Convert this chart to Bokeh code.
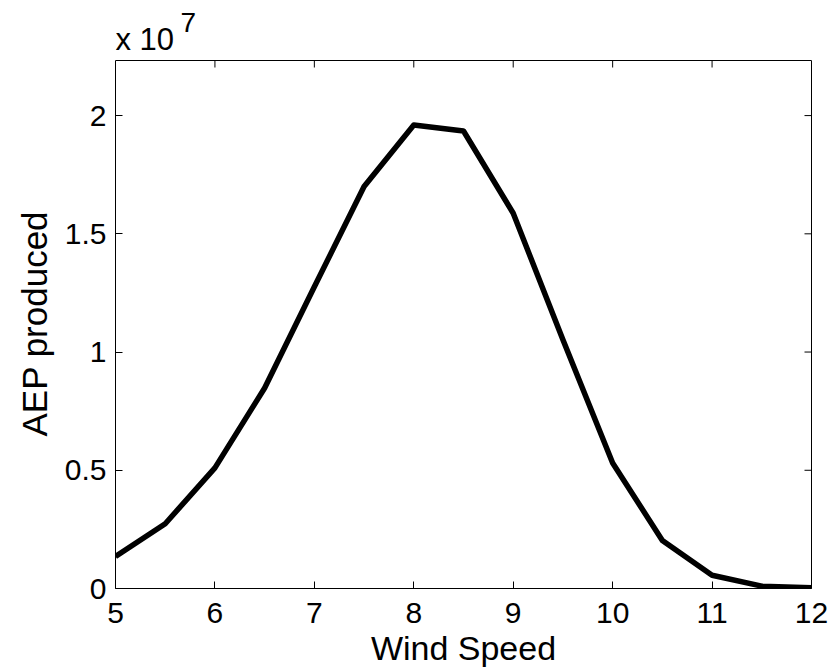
import math
from bokeh.plotting import figure
from bokeh.models import FixedTicker, Range1d, LinearAxis, Title
from bokeh.core.properties import value
from bokeh.embed import file_html
from bokeh.resources import INLINE

# Data (AEP in units of 1e7)
wind_speed = [5, 5.5, 6, 6.5, 7, 7.5, 8, 8.5, 9, 9.5, 10, 10.5, 11, 11.5, 12]
aep_e7 = [0.135, 0.274, 0.510, 0.848, 1.276, 1.700, 1.960, 1.935, 1.587, 1.052, 0.531, 0.203, 0.056, 0.010, 0.003]

x_ticks = [5, 6, 7, 8, 9, 10, 11, 12]
y_ticks = [0, 0.5, 1, 1.5, 2]
y_tick_labels = ["0", "0.5", "1", "1.5", "2"]
x_label = "Wind Speed"
y_label = "AEP produced"
exp_base = "x 10"
exp_power = "7"

X_MIN, X_MAX = 5, 12
Y_MIN, Y_MAX = 0, 2.233

FONT = "Liberation Sans"

# layout: axes box from y=60 to y=588 px; the frame is extended to the top edge
# so that the exponent marker above the box can be drawn as text.
W, H = 833, 670
BOX_TOP_PX, BORDER_BOTTOM = 60, 82
frame_h = H - BORDER_BOTTOM
Y_TOP = Y_MIN + (Y_MAX - Y_MIN) * frame_h / (frame_h - BOX_TOP_PX)

p = figure(width=W, height=H, output_backend="svg", toolbar_location=None,
           x_range=Range1d(X_MIN, X_MAX), y_range=Range1d(Y_MIN, Y_TOP),
           min_border_left=115, min_border_right=22, min_border_top=0,
           min_border_bottom=BORDER_BOTTOM)
p.xgrid.visible = False
p.ygrid.visible = False
p.outline_line_color = None
p.background_fill_color = "white"
p.border_fill_color = "white"

p.line(wind_speed, aep_e7, line_color="black", line_width=5.5, line_join="round")

# top edge of the box and inward ticks on top and right edges
p.line(x=[X_MIN, X_MAX], y=[Y_MAX, Y_MAX], line_color="black", line_width=1)
p.ray(x=x_ticks, y=[Y_MAX] * len(x_ticks), length=7, length_units="screen",
      angle=-math.pi / 2, line_color="black", line_width=1)
p.ray(x=[X_MAX] * len(y_ticks), y=y_ticks, length=7, length_units="screen",
      angle=math.pi, line_color="black", line_width=1)

def style(ax):
    ax.axis_line_color = "black"
    ax.axis_line_width = 1
    ax.major_tick_line_color = "black"
    ax.major_tick_in = 7
    ax.major_tick_out = 0
    ax.minor_tick_line_color = None
    ax.major_label_text_font = FONT
    ax.major_label_text_font_size = "30px"
    ax.major_label_text_color = "black"
    ax.axis_label_text_font = FONT
    ax.axis_label_text_font_size = "34px"
    ax.axis_label_text_font_style = "normal"
    ax.axis_label_text_color = "black"

xa = p.xaxis[0]
style(xa)
xa.ticker = FixedTicker(ticks=x_ticks)
xa.axis_label = x_label
xa.major_label_standoff = 14
xa.axis_label_standoff = 3

ya = p.yaxis[0]
style(ya)
ya.ticker = FixedTicker(ticks=y_ticks)
ya.bounds = (Y_MIN, Y_MAX)
ya.major_label_overrides = {t: s for t, s in zip(y_ticks, y_tick_labels)}
ya.major_label_standoff = 9

# y-axis title, placed along the box (not the extended frame)
p.add_layout(Title(text=y_label, align="left", offset=152, standoff=15,
                   text_font=FONT, text_font_size="35px", text_font_style="normal",
                   text_color="black"), "left")

# right edge of the box (no ticks/labels; ticks drawn above as rays)
ra = LinearAxis(ticker=FixedTicker(ticks=[]), bounds=(Y_MIN, Y_MAX))
ra.axis_line_color = "black"
ra.axis_line_width = 1
ra.major_tick_line_color = None
ra.minor_tick_line_color = None
p.add_layout(ra, "right")

# "x 10^7" exponent marker above the top-left corner
p.text(x=[X_MIN], y=[Y_MAX], text=[exp_base], x_offset=0, y_offset=-21,
       text_font=value(FONT), text_font_size="31px", text_color="black",
       text_align="left", text_baseline="alphabetic")
p.text(x=[X_MIN], y=[Y_MAX], text=[exp_power], x_offset=65, y_offset=-38,
       text_font=value(FONT), text_font_size="28px", text_color="black",
       text_align="left", text_baseline="alphabetic")

open("out.html", "w").write(file_html(p, INLINE))
